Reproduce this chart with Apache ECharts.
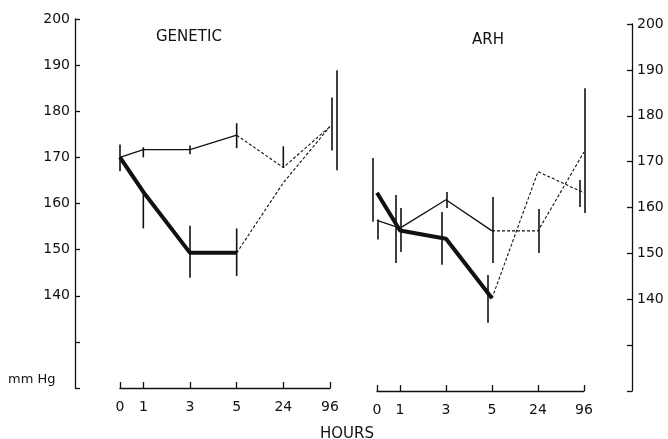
<!DOCTYPE html>
<html>
<head>
<meta charset="utf-8">
<script src="https://cdn.jsdelivr.net/npm/echarts@6/dist/echarts.min.js"></script>
<style>
html,body{margin:0;padding:0;background:#fff}
#main{width:668px;height:439px}
</style>
</head>
<body>
<div id="main"></div>
<script>
// time axis is broken: 24 h and 96 h sit 2 units apart after 5 h
var hourLabels = ['0', '1', '3', '5', '24', '96'];
var hourPos = [0, 1, 3, 5, 7, 9];

// GENETIC panel (mm Hg)
var genThin = [170, 171.7, 171.7, 174.8, 167.8, 176.7];
var genThinLow = [167, 170, 170.7, 172, 167.8, 171.5];
var genThinHigh = [172.8, 172.2, 172.6, 177.4, 172.4, 183];
var genThick = [170, 162.5, 149.3, 149.3, 164.5, 176.7];
var genThickLow = [null, 154.6, 143.9, 144.3, null, 167.2];
var genThickHigh = [null, 162.8, 155.2, 154.6, null, 188.9];

// ARH panel (mm Hg)
var arhThin = [157.2, 155.5, 161.7, 154.9, 154.9, 172.1];
var arhThinLow = [153, 150.3, 159.9, 147.9, 150.1, 158.8];
var arhThinHigh = [157.4, 159.9, 163.4, 162.3, 159.7, 186];
var arhThick = [163.2, 155, 153.2, 140.2, 167.8, 163.2];
var arhThickLow = [156.9, 147.9, 147.5, 134.9, null, 160.1];
var arhThickHigh = [170.8, 162.7, 159, 145.3, null, 166];

var ink = '#111';
var font = 'DejaVu Sans';

var myChart = echarts.init(document.getElementById('main'));

function pts(vals, from, to) {
    var out = [];
    for (var i = from; i <= to; i++) out.push([hourPos[i], vals[i]]);
    return out;
}
function bars(low, high) {
    var out = [];
    for (var i = 0; i < low.length; i++) {
        if (low[i] != null) out.push([hourPos[i], low[i], high[i]]);
    }
    return out;
}
// dx nudges overlapping bars apart a few pixels, dxLast only for the 96 h bar
function barItem(dx, dxLast) {
    return function (params, api) {
        var x = api.value(0);
        var d = x === 9 && dxLast != null ? dxLast : dx;
        var p1 = api.coord([x, api.value(1)]);
        var p2 = api.coord([x, api.value(2)]);
        return {
            type: 'line',
            shape: {x1: p1[0] + d, y1: p1[1], x2: p2[0] + d, y2: p2[1]},
            style: {stroke: ink, lineWidth: 1.6}
        };
    };
}
function lineSeries(idx, data, width, dashed) {
    return {
        type: 'line', xAxisIndex: idx, yAxisIndex: idx,
        data: data, showSymbol: false, silent: true,
        lineStyle: {color: ink, width: width, type: dashed ? [3, 2] : 'solid'}
    };
}
function errSeries(idx, low, high, dx, dxLast) {
    return {
        type: 'custom', xAxisIndex: idx, yAxisIndex: idx,
        data: bars(low, high), renderItem: barItem(dx, dxLast), silent: true
    };
}
function xAx(idx) {
    return {
        type: 'value', gridIndex: idx, min: 0, max: 9,
        axisLine: {show: true, onZero: false, lineStyle: {color: ink, width: 1.3}},
        axisTick: {show: true, inside: true, length: 6, customValues: hourPos, lineStyle: {color: ink, width: 1.3}},
        axisLabel: {
            customValues: hourPos, margin: 12, color: ink, fontFamily: font, fontSize: 14,
            formatter: function (v) { return hourLabels[hourPos.indexOf(v)]; }
        },
        splitLine: {show: false}
    };
}
function yAx(idx, pos, off) {
    return {
        type: 'value', gridIndex: idx, position: pos, offset: off,
        min: 120, max: 200, interval: 10,
        axisLine: {show: true, onZero: false, lineStyle: {color: ink, width: 1.3}},
        axisTick: {show: true, inside: true, length: 5, lineStyle: {color: ink, width: 1.3}},
        axisLabel: {
            margin: 5, color: ink, fontFamily: font, fontSize: 14,
            formatter: function (v) { return v >= 140 ? String(v) : ''; }
        },
        splitLine: {show: false}
    };
}

var option = {
    backgroundColor: '#fff',
    animation: false,
    grid: [
        {left: 120, top: 19, width: 210, height: 369},
        {left: 377, top: 24, width: 207, height: 367}
    ],
    xAxis: [xAx(0), xAx(1)],
    yAxis: [yAx(0, 'left', 45), yAx(1, 'right', 48)],
    series: [
        // GENETIC
        lineSeries(0, pts(genThin, 0, 3), 1.3, false),
        lineSeries(0, pts(genThin, 3, 5), 1.1, true),
        lineSeries(0, pts(genThick, 0, 3), 4, false),
        lineSeries(0, pts(genThick, 3, 5), 1.1, true),
        errSeries(0, genThinLow, genThinHigh, 0, 2),
        errSeries(0, genThickLow, genThickHigh, 0, 7),
        // ARH
        lineSeries(1, pts(arhThin, 0, 3), 1.3, false),
        lineSeries(1, pts(arhThin, 3, 5), 1.1, true),
        lineSeries(1, pts(arhThick, 0, 3), 4, false),
        lineSeries(1, pts(arhThick, 3, 5), 1.1, true),
        errSeries(1, arhThinLow, arhThinHigh, 1),
        errSeries(1, arhThickLow, arhThickHigh, -4)
    ],
    graphic: [
        {type: 'text', left: 156, top: 30, style: {text: 'GENETIC', fill: ink, font: '15px ' + font}},
        {type: 'text', left: 472, top: 33, style: {text: 'ARH', fill: ink, font: '15px ' + font}},
        {type: 'text', left: 8, top: 373, style: {text: 'mm Hg', fill: ink, font: '13px ' + font}},
        {type: 'text', left: 320, top: 427, style: {text: 'HOURS', fill: ink, font: '15px ' + font}}
    ]
};

myChart.setOption(option);
</script>
</body>
</html>
